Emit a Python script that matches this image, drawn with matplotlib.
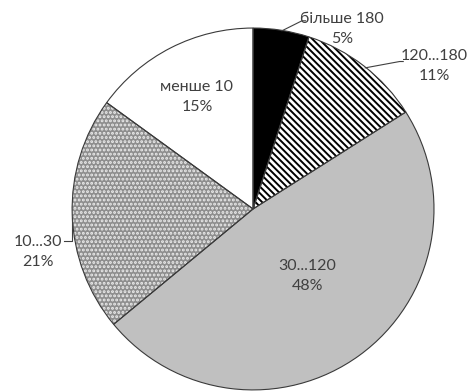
import matplotlib.pyplot as plt

plt.rcParams['font.family'] = ['Lato', 'DejaVu Sans']
plt.rcParams['hatch.linewidth'] = 1.4

labels = ['більше 180', '120...180', '30...120', '10...30', 'менше 10']
values = [5, 11, 48, 21, 15]
pct_labels = ['5%', '11%', '48%', '21%', '15%']
face_colors = ['black', 'white', '#c0c0c0', '#8e8e8e', 'white']
hatches = [None, '\\\\\\\\\\', None, '....', None]
hatch_colors = ['black', 'black', '#c0c0c0', '#ececec', 'white']

fig = plt.figure(figsize=(4.73, 3.91), dpi=100)
ax = fig.add_axes([0, 0, 1, 1])
ax.set_aspect('equal')
ax.axis('off')

wedges, _ = ax.pie(values, startangle=90, counterclock=False, radius=1.0,
                   colors=face_colors,
                   wedgeprops=dict(linewidth=0))
for w, h, hc in zip(wedges, hatches, hatch_colors):
    if h:
        w.set_hatch(h)
        w.set_edgecolor(hc)
        w.set_linewidth(0)
ax.pie(values, startangle=90, counterclock=False, radius=1.0,
       wedgeprops=dict(fill=False, edgecolor='#3a3a3a', linewidth=0.8))
ax.set_xlim(-1.398, 1.215)
ax.set_ylim(-1.006, 1.155)

tc = '#404040'
fs = 11.5
pos = [(0.49, 0.995), (1.0, 0.79), (0.30, -0.37), (-1.19, -0.24), (-0.31, 0.62)]
for (x, y), lab, p in zip(pos, labels, pct_labels):
    ax.text(x, y, f'{lab}\n{p}', ha='center', va='center', fontsize=fs,
            color=tc, linespacing=1.55)

lc = '#404040'
ax.plot([0.16, 0.27, 0.29], [0.985, 1.04, 1.04], color=lc, lw=0.8)
ax.plot([0.62, 0.81, 0.83], [0.78, 0.815, 0.815], color=lc, lw=0.8)
ax.plot([-1.045, -1.0, -1.0], [-0.175, -0.175, -0.05], color=lc, lw=0.8)

fig.savefig('out.png', dpi=100)
